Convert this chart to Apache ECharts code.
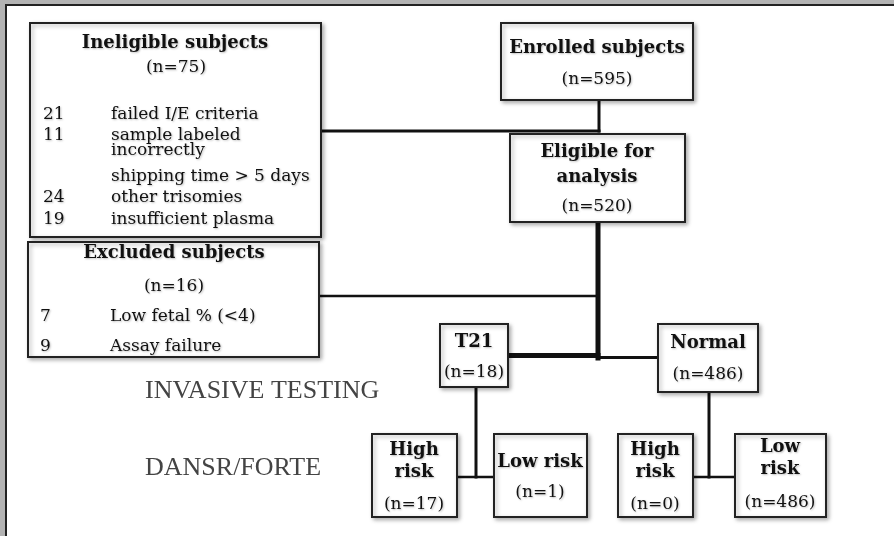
<!DOCTYPE html>
<html>
<head>
<meta charset="utf-8">
<script src="https://cdn.jsdelivr.net/npm/echarts@6/dist/echarts.min.js"></script>
<style>
  html, body { margin: 0; padding: 0; background: #b3b3b3; }
  #frame {
    position: absolute; left: 5px; top: 4px; width: 889px; height: 532px;
    border-left: 2px solid #222; border-top: 2px solid #222; background: #fff;
  }
  #chart { position: absolute; left: 0; top: 0; width: 894px; height: 536px; }
</style>
</head>
<body>
<div id="frame"></div>
<div id="chart"></div>
<script>
// box contents
const boxTitles = ['Ineligible subjects', 'Excluded subjects', 'Enrolled subjects', 'Eligible for\nanalysis',
  'T21', 'Normal', 'High\nrisk', 'Low risk', 'High\nrisk', 'Low\nrisk']
const boxCounts = [75, 16, 595, 520, 18, 486, 17, 1, 0, 486]

// reasons inside the two side boxes
const ineligibleCounts = ['21', '11', '', '', '24', '19']
const ineligibleReasons = ['failed I/E criteria', 'sample labeled', 'incorrectly', 'shipping time > 5 days',
  'other trisomies', 'insufficient plasma']
const excludedCounts = ['7', '9']
const excludedReasons = ['Low fetal % (<4)', 'Assay failure']

const stageLabels = ['INVASIVE TESTING', 'DANSR/FORTE']

// layout (page pixels)
const boxRects = [
  [30, 23, 321, 237], [28, 242, 319, 357], [501, 23, 693, 100], [510, 134, 685, 222],
  [440, 324, 508, 387], [658, 324, 758, 392], [372, 434, 457, 517], [494, 434, 587, 517],
  [618, 434, 693, 517], [735, 434, 826, 517]
]
const titlePos = [[175, 43], [174, 253], [597, 48], [597, 165], [474, 342], [708, 343],
  [414, 461], [540, 462], [655, 461], [780, 458]]
const countPos = [[176, 68], [174, 287], [597, 80], [597, 207], [474, 373], [708, 375],
  [414, 505], [540, 493], [655, 505], [780, 503]]
const ineligibleRowY = [115, 136, 151, 177, 198, 220]
const excludedRowY = [317, 347]
const stagePos = [[145, 391], [145, 468]]

const links = [
  [[599, 100], [599, 131], 3], [[319, 131], [599, 131], 3], [[598, 222], [598, 358], 5],
  [[318, 296], [598, 296], 2.5], [[508, 355.5], [598, 355.5], 5], [[598, 357.5], [658, 357.5], 3],
  [[476, 387], [476, 477], 3], [[457, 477], [494, 477], 2.5], [[709, 392], [709, 477], 3],
  [[693, 477], [735, 477], 2.5]
]

const serif = '"DejaVu Serif", "Liberation Serif", serif'
const texts = []
boxTitles.forEach(function(t, i) {
  texts.push({ text: t, pos: titlePos[i], font: 'bold 18px ' + serif, align: 'center', lh: i === 3 ? 25 : 22 })
  texts.push({ text: '(n=' + boxCounts[i] + ')', pos: countPos[i], font: '17px ' + serif, align: 'center', lh: 20 })
})
ineligibleReasons.forEach(function(t, i) {
  texts.push({ text: ineligibleCounts[i], pos: [43, ineligibleRowY[i]], font: '17px ' + serif, align: 'left', lh: 20 })
  texts.push({ text: t, pos: [111, ineligibleRowY[i]], font: '17px ' + serif, align: 'left', lh: 20 })
})
excludedReasons.forEach(function(t, i) {
  texts.push({ text: excludedCounts[i], pos: [40, excludedRowY[i]], font: '17px ' + serif, align: 'left', lh: 20 })
  texts.push({ text: t, pos: [110, excludedRowY[i]], font: '17px ' + serif, align: 'left', lh: 20 })
})
stageLabels.forEach(function(t, i) {
  texts.push({ text: t, pos: stagePos[i], font: '26px "Liberation Serif", serif', align: 'left', lh: 28, fill: '#444', plain: true })
})

const chart = echarts.init(document.getElementById('chart'))
chart.setOption({
  backgroundColor: 'transparent',
  animation: false,
  grid: { left: 0, right: 0, top: 0, bottom: 0 },
  xAxis: { type: 'value', min: 0, max: 894, show: false },
  yAxis: { type: 'value', min: 0, max: 536, inverse: true, show: false },
  series: [
    {
      type: 'custom',
      name: 'links',
      data: links.map(function(l) { return [l[0][0], l[0][1], l[1][0], l[1][1], l[2]] }),
      renderItem: function(params, api) {
        const a = api.coord([api.value(0), api.value(1)])
        const b = api.coord([api.value(2), api.value(3)])
        return {
          type: 'line',
          shape: { x1: a[0], y1: a[1], x2: b[0], y2: b[1] },
          style: { stroke: '#111', lineWidth: api.value(4), lineCap: 'square' }
        }
      }
    },
    {
      type: 'custom',
      name: 'boxes',
      data: boxRects,
      renderItem: function(params, api) {
        const a = api.coord([api.value(0), api.value(1)])
        const b = api.coord([api.value(2), api.value(3)])
        return {
          type: 'rect',
          shape: { x: a[0], y: a[1], width: b[0] - a[0], height: b[1] - a[1] },
          style: {
            fill: '#fff', stroke: '#222', lineWidth: 2,
            shadowBlur: 4, shadowOffsetX: 2, shadowOffsetY: 2, shadowColor: 'rgba(0,0,0,0.3)'
          }
        }
      }
    },
    {
      type: 'custom',
      name: 'texts',
      data: texts.map(function(t, i) { return [t.pos[0], t.pos[1], i] }),
      renderItem: function(params, api) {
        const p = api.coord([api.value(0), api.value(1)])
        const t = texts[api.value(2)]
        return {
          type: 'text',
          x: p[0], y: p[1],
          style: {
            text: t.text, font: t.font, fill: t.fill || '#111', align: t.align,
            verticalAlign: 'middle', lineHeight: t.lh,
            textShadowColor: t.plain ? 'transparent' : 'rgba(0,0,0,0.25)',
            textShadowBlur: t.plain ? 0 : 2, textShadowOffsetX: 1, textShadowOffsetY: 1
          }
        }
      }
    }
  ]
})
</script>
</body>
</html>
